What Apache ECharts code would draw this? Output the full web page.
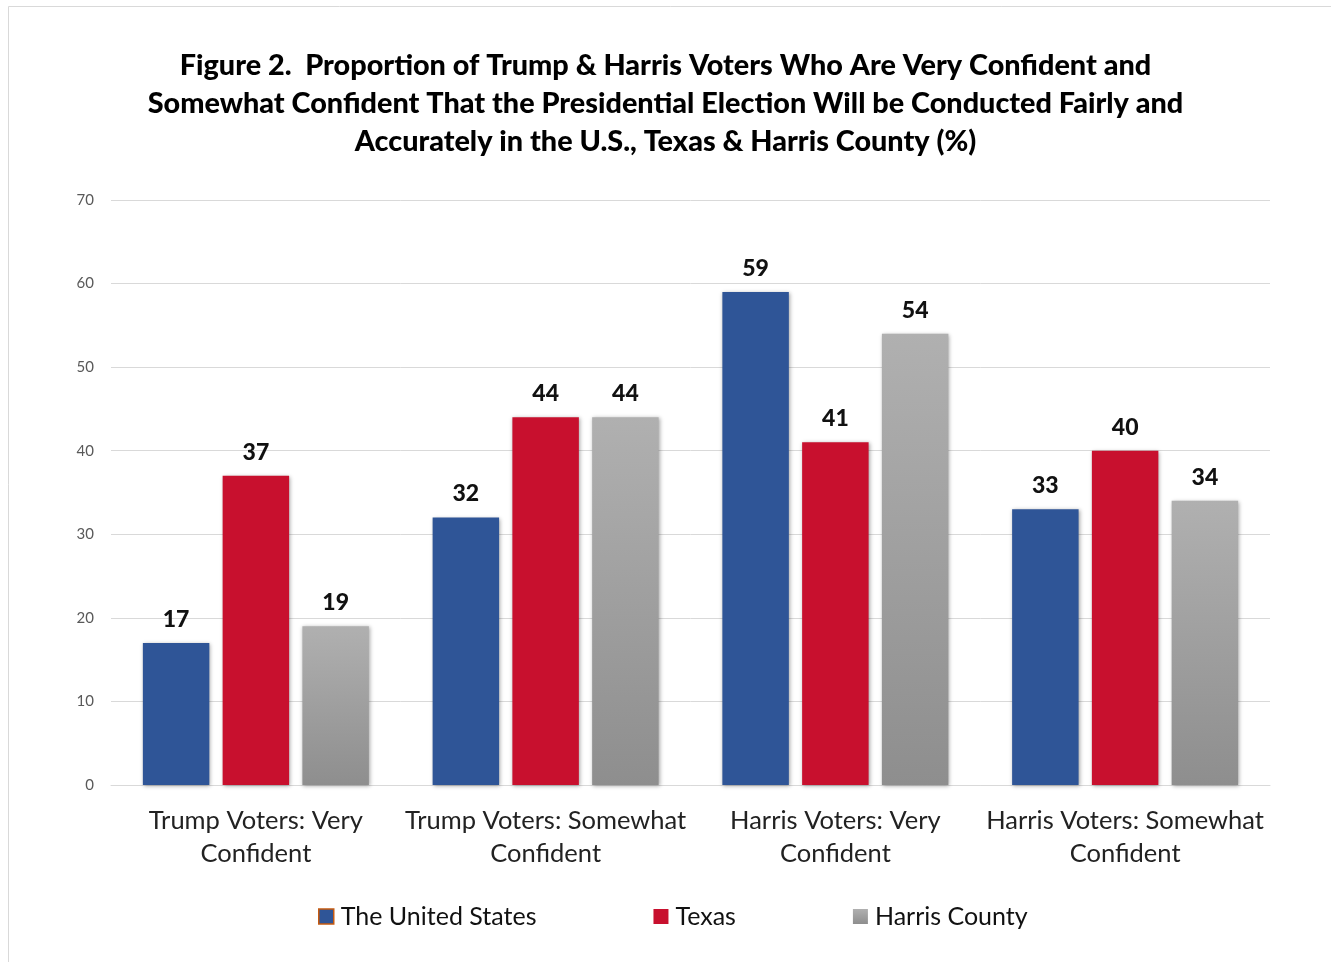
<!DOCTYPE html>
<html><head><meta charset="utf-8">
<script src="https://cdn.jsdelivr.net/npm/echarts@6/dist/echarts.min.js"></script>
<style>html,body{margin:0;padding:0;background:#fff;}#c{width:1331px;height:962px;}</style>
</head><body><div id="c"></div>
<script>
const categories = ["Trump Voters: Very\nConfident", "Trump Voters: Somewhat\nConfident", "Harris Voters: Very\nConfident", "Harris Voters: Somewhat\nConfident"];
const seriesNames = ["The United States", "Texas", "Harris County"];
const usValues = [17, 32, 59, 33];
const texasValues = [37, 44, 41, 40];
const harrisValues = [19, 44, 54, 34];
const titleText = "Figure 2.  Proportion of Trump & Harris Voters Who Are Very Confident and\nSomewhat Confident That the Presidential Election Will be Conducted Fairly and\nAccurately in the U.S., Texas & Harris County (%)";

const font = "Lato, 'Open Sans', sans-serif";
const grayGrad = new echarts.graphic.LinearGradient(0,0,0,1,[{offset:0,color:'#b0b0b0'},{offset:1,color:'#8e8e8e'}]);
const label = {show:true, position:'top', distance:12, fontFamily:font, fontWeight:900, fontSize:23, color:'#111'};
const shadow = {shadowColor:'rgba(0,0,0,0.35)', shadowBlur:4, shadowOffsetX:1, shadowOffsetY:1};

const chart = echarts.init(document.getElementById('c'));
chart.setOption({
  backgroundColor:'#fff',
  graphic:[{type:'rect', shape:{x:8.5,y:6.5,width:1340,height:970}, style:{fill:'none', stroke:'#d9d9d9', lineWidth:1}, z:-1}],
  title:{text:titleText, left:'center', top:42, textStyle:{fontFamily:font, fontWeight:900, fontSize:28.8, lineHeight:38, color:'#000'}},
  legend:{bottom:33, left:318, itemWidth:15, itemHeight:15, itemGap:117, icon:'rect', padding:0,
    textStyle:{fontFamily:font, fontSize:25, color:'#111', padding:[0,0,0,2]},
    data:[{name:seriesNames[0], itemStyle:{borderColor:'#c55a11', borderWidth:1.5}}, {name:seriesNames[1]}, {name:seriesNames[2]}]},
  grid:{left:111, right:61, top:200, bottom:177},
  xAxis:{type:'category', data:categories, axisTick:{show:false},
    axisLine:{lineStyle:{color:'#d9d9d9'}},
    axisLabel:{fontFamily:font, fontSize:25.5, color:'#222', lineHeight:33, margin:19, interval:0}},
  yAxis:{type:'value', min:0, max:70, interval:10, axisLine:{show:false}, axisTick:{show:false},
    splitLine:{lineStyle:{color:'#d9d9d9'}},
    axisLabel:{fontFamily:font, fontSize:15, color:'#595959', margin:17}},
  series:[
    {name:seriesNames[0], type:'bar', data:usValues, barGap:'20%', barCategoryGap:'22%', itemStyle:Object.assign({color:'#2f5597'},shadow), label:label},
    {name:seriesNames[1], type:'bar', data:texasValues, itemStyle:Object.assign({color:'#c8102e'},shadow), label:label},
    {name:seriesNames[2], type:'bar', data:harrisValues, itemStyle:Object.assign({color:grayGrad},shadow), label:label}
  ]
});
</script></body></html>
